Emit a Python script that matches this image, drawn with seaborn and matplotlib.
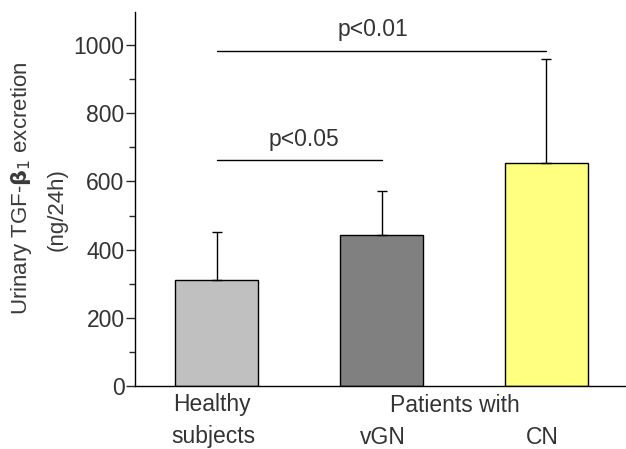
import pandas as pd
import matplotlib
matplotlib.use("Agg")
import matplotlib.pyplot as plt
import seaborn as sns
import numpy as np
from matplotlib.ticker import MultipleLocator

# group data
groups = ["Healthy", "vGN", "CN"]
means = [311, 443, 654]
sds = [141, 129, 305]
bar_colors = ["#c0c0c0", "#808080", "#ffff80"]

# significance brackets: (from group, to group, y, label, label x, label y)
brackets = [(0, 2, 982, "p<0.01", 0.95, 1045),
            (0, 1, 663, "p<0.05", 0.53, 722)]

sns.set_style("ticks")
plt.rcParams["font.family"] = ["Liberation Sans", "DejaVu Sans"]
txt = "#333333"
fs = 16.5

fig = plt.figure(figsize=(6.26, 4.49), dpi=100)
ax = fig.add_axes([0.2157, 0.1403, 0.7843, 0.833])

df = pd.DataFrame({"group": groups, "mean": means})
sns.barplot(data=df, x="group", y="mean", hue="group", palette=bar_colors,
            saturation=1, width=0.5, edgecolor="black", linewidth=1,
            legend=False, ax=ax)
ax.errorbar(range(len(groups)), means, yerr=[np.zeros(len(sds)), sds],
            fmt="none", ecolor="black", elinewidth=1, capsize=3.5, capthick=1)

for a, b, y, lab, lx, ly in brackets:
    ax.plot([a, b], [y, y], color="black", lw=1)
    ax.text(lx, ly, lab, ha="center", va="center", fontsize=fs, color=txt)

ax.set_xlim(-0.494, 2.482)
ax.set_ylim(0, 1097)
ax.yaxis.set_major_locator(MultipleLocator(200))
ax.yaxis.set_minor_locator(MultipleLocator(100))
ax.tick_params(axis="y", which="major", length=6.5, width=1, labelsize=fs,
               labelcolor=txt, pad=1)
ax.tick_params(axis="y", which="minor", length=4.5, width=1)
ax.tick_params(axis="x", length=0, labelbottom=False)
ax.set_xlabel("")
ax.set_ylabel("")
sns.despine(ax=ax)
for s in ["left", "bottom"]:
    ax.spines[s].set_linewidth(1)
    ax.spines[s].set_color("black")

# category labels below the axis
fig.text(212 / 626, 1 - 405 / 449, "Healthy", ha="center", va="center", fontsize=fs, color=txt)
fig.text(213 / 626, 1 - 437 / 449, "subjects", ha="center", va="center", fontsize=fs, color=txt)
fig.text(455 / 626, 1 - 405 / 449, "Patients with", ha="center", va="center", fontsize=fs, color=txt)
fig.text(383 / 626, 1 - 437 / 449, "vGN", ha="center", va="center", fontsize=fs, color=txt)
fig.text(542 / 626, 1 - 437 / 449, "CN", ha="center", va="center", fontsize=fs, color=txt)

fig.text(22 / 626, 0.581, r"Urinary TGF-$\mathbf{\beta}_1$ excretion", rotation=90,
         ha="center", va="center", fontsize=16, color="#3a3a3a")
fig.text(57 / 626, 0.534, "(ng/24h)", rotation=90, ha="center", va="center",
         fontsize=16, color="#3a3a3a")

fig.savefig("out.png", dpi=100)
